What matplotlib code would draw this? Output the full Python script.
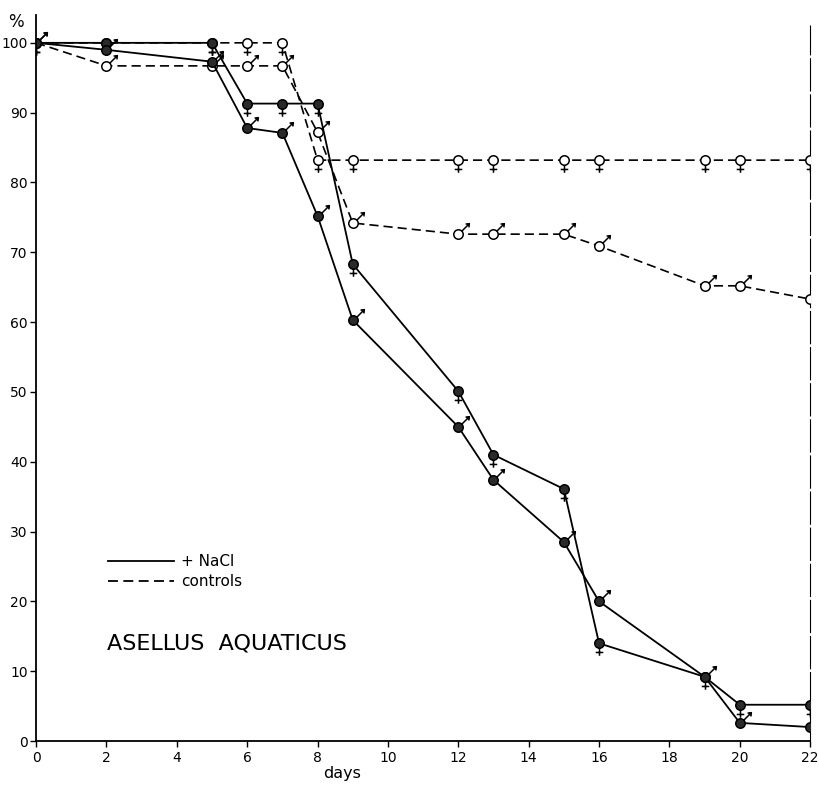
import matplotlib
matplotlib.use('Agg')
import matplotlib.pyplot as plt
from matplotlib.path import Path
from matplotlib.lines import Line2D

days = [0, 2, 5, 6, 7, 8, 9, 12, 13, 15, 16, 19, 20, 22]

# survival in %
nacl_female = [100, 100, 100, 91.3, 91.3, 91.3, 68.3, 50.1, 41.0, 36.1, 14.0, 9.2, 5.2, 5.2]
nacl_male = [100, 99.0, 97.3, 87.8, 87.1, 75.2, 60.3, 45.0, 37.4, 28.5, 20.0, 9.2, 2.6, 2.0]
ctrl_female = [100, 100, 100, 100, 100, 83.2, 83.2, 83.2, 83.2, 83.2, 83.2, 83.2, 83.2, 83.2]
ctrl_male = [100, 96.7, 96.7, 96.7, 96.7, 87.2, 74.2, 72.6, 72.6, 72.6, 70.9, 65.2, 65.2, 63.3]

xticks = list(range(0, 23, 2))
yticks = list(range(0, 101, 10))

M, L = Path.MOVETO, Path.LINETO

# circle with a venus cross below it
female_path = Path.make_compound_path(
    Path.unit_circle(),
    Path([(0, -1), (0, -2.6), (-0.8, -1.9), (0.8, -1.9)], [M, L, M, L]))
# circle with a mars arrow to the upper right
male_path = Path.make_compound_path(
    Path.unit_circle(),
    Path([(0.71, 0.71), (2.3, 2.3)], [M, L]),
    Path([(1.5, 2.2), (2.3, 2.3), (2.2, 1.5)], [M, L, L]))

r_pt = 3.4  # circle radius in points


def ms(maxabs):
    return 2 * maxabs * r_pt


fig = plt.figure(figsize=(8.2, 7.85), dpi=100)
ax = fig.add_axes([0.044, 0.056, 0.944, 0.925])

dash = (0, (5.5, 3))
dark = '#2a2a2a'

# end-of-experiment marker line
ax.vlines(22, 0, 102.6, color='k', lw=0.8, linestyles=[(0, (30, 2.5))], clip_on=False, zorder=1)

ax.plot(days, ctrl_female, color='k', lw=1.2, linestyle=dash, marker=female_path,
        ms=ms(2.6), mfc='white', mec='k', mew=1.1)
ax.plot(days, ctrl_male, color='k', lw=1.2, linestyle=dash, marker=male_path,
        ms=ms(2.3), mfc='white', mec='k', mew=1.1)
ax.plot(days, nacl_female, color='k', lw=1.3, linestyle='-', marker=female_path,
        ms=ms(2.6), mfc=dark, mec='k', mew=1.1)
ax.plot(days, nacl_male, color='k', lw=1.3, linestyle='-', marker=male_path,
        ms=ms(2.3), mfc=dark, mec='k', mew=1.1)

ax.set_xlim(0, 22)
ax.set_ylim(0, 104)
ax.set_xticks(xticks)
ax.set_yticks(yticks)
ax.tick_params(axis='both', labelsize=10, length=4, width=1.0, direction='out', pad=3)
ax.tick_params(axis='y', pad=2)
for s in ['top', 'right']:
    ax.spines[s].set_visible(False)
for s in ['left', 'bottom']:
    ax.spines[s].set_linewidth(1.3)

ax.text(-0.57, 103, '%', fontsize=12, ha='center', va='center')
ax.text(8.7, -4.6, 'days', fontsize=11.5, ha='center', va='center')

ax.text(0.092, 0.135, 'ASELLUS  AQUATICUS', transform=ax.transAxes, fontsize=16,
        ha='left', va='center')

handles = [Line2D([], [], color='k', lw=1.3, linestyle='-'),
           Line2D([], [], color='k', lw=1.3, linestyle=dash)]
ax.legend(handles, ['+ NaCl', 'controls'], loc='lower left', bbox_to_anchor=(0.075, 0.19),
          frameon=False, fontsize=11, handlelength=4.3, handletextpad=0.5, labelspacing=0.35)

fig.savefig('out.png', dpi=100, facecolor='white')
